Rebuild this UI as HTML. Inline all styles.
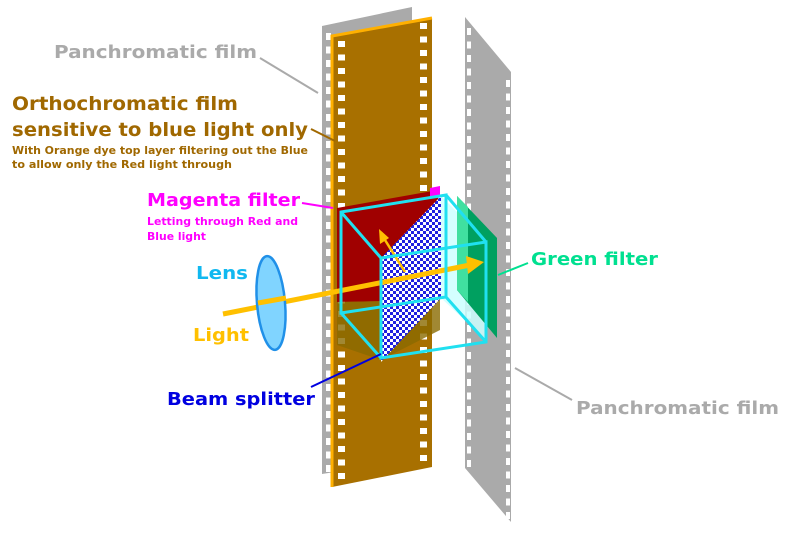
<!DOCTYPE html>
<html><head><style>html,body{margin:0;padding:0;background:#fff}svg{display:block}text{font-family:"DejaVu Sans","Liberation Sans",sans-serif;font-weight:bold}</style></head><body>
<svg width="791" height="533" viewBox="0 0 791 533" xmlns="http://www.w3.org/2000/svg">
<defs>
<pattern id="chk" width="6" height="6" patternUnits="userSpaceOnUse">
<rect width="6" height="6" fill="#fff"/><rect width="3" height="3" fill="#2020e0"/><rect x="3" y="3" width="3" height="3" fill="#2020e0"/>
</pattern>
<pattern id="perfG" width="8" height="13.5" patternUnits="userSpaceOnUse" x="325" y="30"><rect x="1" y="3" width="5" height="7" fill="#fff"/></pattern>
</defs>
<!-- left gray film -->
<polygon points="322,26 412,7 412,460 322,474" fill="#aaaaaa"/>
<rect x="323" y="30" width="9" height="444" fill="url(#perfG)"/>
<!-- right gray film -->
<polygon points="465,17 511,72 511,522 465,468" fill="#aaaaaa"/>
<g fill="#fff" id="rp"></g>
<!-- orange film -->
<polygon points="332,36 432,18 432,467 332,487" fill="#a87000"/>
<polyline points="332,487 332,36 432,18" fill="none" stroke="#ffb000" stroke-width="3"/>
<g id="perfs"></g>
<!-- magenta/red filter region -->
<polygon points="337,208 438,190 440,300 337,302" fill="#a00000"/>
<polygon points="337,302 440,300 440,330 381,360 337,345" fill="#8a6a00" opacity="0.8"/>
<polygon points="430,188 440,186 440,196 430,198" fill="#ff00ff"/>
<!-- light cyan region -->
<polygon points="441,196 487,242 487,341 441,298" fill="#ccffff" opacity="0.85"/>
<!-- green filter -->
<polygon points="457,196 497,238 497,338 457,290" fill="#00a060"/>
<polygon points="457,196 468,207 468,302 457,290" fill="#40e0a0"/>
<!-- beam splitter -->
<polygon points="441,196 381,258 381,362 441,298" fill="url(#chk)"/>
<!-- light arrow -->
<line x1="223" y1="314" x2="470" y2="265" stroke="#ffc000" stroke-width="5"/>
<polygon points="484,262 466,256 468,274" fill="#ffc000"/>
<line x1="405" y1="272" x2="385" y2="240" stroke="#ffc000" stroke-width="2.5"/>
<polygon points="379,229 380,244 389,238" fill="#ffc000"/>
<!-- lens -->
<ellipse cx="271" cy="303" rx="14" ry="47" transform="rotate(-5 271 303)" fill="#80d4ff" stroke="#2090e8" stroke-width="2.5"/>
<line x1="258" y1="303" x2="286" y2="298" stroke="#ffc000" stroke-width="5"/>
<!-- cube -->
<g fill="none" stroke="#20e0f0" stroke-width="3">
<polygon points="341,212 446,195 446,297 341,313"/>
<polygon points="381,258 486,242 486,342 381,358"/>
<line x1="341" y1="212" x2="381" y2="258"/><line x1="446" y1="195" x2="486" y2="242"/>
<line x1="446" y1="297" x2="486" y2="342"/><line x1="341" y1="313" x2="381" y2="358"/>
</g>
<!-- leader lines -->
<line x1="260" y1="58" x2="318" y2="93" stroke="#aaa" stroke-width="2"/>
<line x1="311" y1="129" x2="335" y2="141" stroke="#a06800" stroke-width="2"/>
<line x1="302" y1="203" x2="333" y2="208" stroke="#ff00ff" stroke-width="2"/>
<line x1="311" y1="387" x2="381" y2="354" stroke="#0000e0" stroke-width="2"/>
<line x1="498" y1="275" x2="528" y2="263" stroke="#00e090" stroke-width="2"/>
<line x1="515" y1="368" x2="572" y2="400" stroke="#aaa" stroke-width="2"/>
<!-- labels -->
<text x="54" y="58" font-size="18" fill="#aaaaaa" textLength="203" lengthAdjust="spacingAndGlyphs">Panchromatic film</text>
<text x="12" y="110" font-size="19" fill="#a06800" textLength="226" lengthAdjust="spacingAndGlyphs">Orthochromatic film</text>
<text x="12" y="136" font-size="19" fill="#a06800" textLength="296" lengthAdjust="spacingAndGlyphs">sensitive to blue light only</text>
<text x="12" y="154" font-size="11" fill="#a06800" textLength="296" lengthAdjust="spacingAndGlyphs">With Orange dye top layer filtering out the Blue</text>
<text x="12" y="168" font-size="11" fill="#a06800" textLength="220" lengthAdjust="spacingAndGlyphs">to allow only the Red light through</text>
<text x="147" y="206" font-size="18" fill="#ff00ff" textLength="153" lengthAdjust="spacingAndGlyphs">Magenta filter</text>
<text x="147" y="225" font-size="11" fill="#ff00ff" textLength="151" lengthAdjust="spacingAndGlyphs">Letting through Red and</text>
<text x="147" y="240" font-size="11" fill="#ff00ff" textLength="59" lengthAdjust="spacingAndGlyphs">Blue light</text>
<text x="196" y="279" font-size="18" fill="#10b8f0" textLength="52" lengthAdjust="spacingAndGlyphs">Lens</text>
<text x="193" y="341" font-size="18" fill="#ffc000" textLength="56" lengthAdjust="spacingAndGlyphs">Light</text>
<text x="167" y="405" font-size="18" fill="#0000e0" textLength="148" lengthAdjust="spacingAndGlyphs">Beam splitter</text>
<text x="531" y="265" font-size="18" fill="#00e090" textLength="127" lengthAdjust="spacingAndGlyphs">Green filter</text>
<text x="576" y="414" font-size="18" fill="#aaaaaa" textLength="203" lengthAdjust="spacingAndGlyphs">Panchromatic film</text>
</svg>
<script>
(function(){var ns="http://www.w3.org/2000/svg";var g=document.getElementById("perfs");var rp=document.getElementById("rp");
function r(p,x,y,w,h,f){var e=document.createElementNS(ns,"rect");e.setAttribute("x",x);e.setAttribute("y",y);e.setAttribute("width",w);e.setAttribute("height",h);e.setAttribute("fill",f);p.appendChild(e);}
for(var i=0;i<33;i++){var y=41+i*13.5;if(y<478)r(g,338,y,7,6,"#fff");}
for(var i=0;i<33;i++){var y=23+i*13.5;if(y<462)r(g,420,y,7,6,"#fff");}
for(var i=0;i<34;i++){var y=28+i*13.5;if(y<462)r(rp,467,y,4,7,"#fff");}
for(var i=0;i<34;i++){var y=80+i*13.5;if(y<515)r(rp,506,y,4,7,"#fff");}
})();
</script>
</body></html>
